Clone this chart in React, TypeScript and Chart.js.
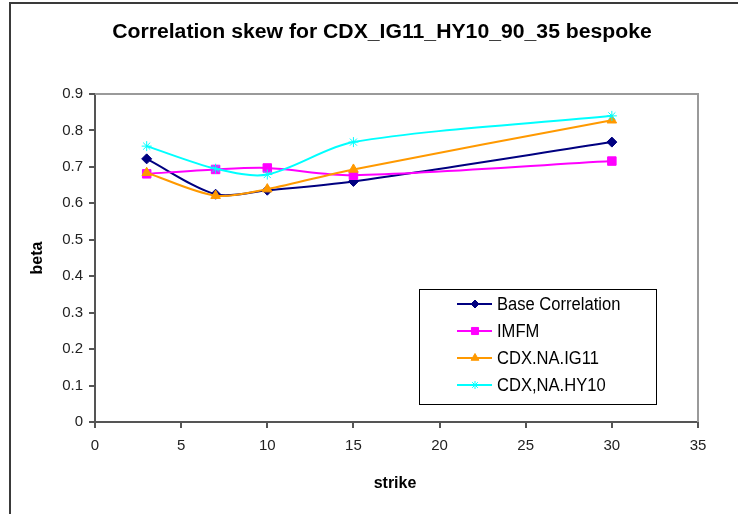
import React, { useEffect, useRef } from 'react';
import { Chart, registerables } from 'chart.js';
import { drawPoint } from 'chart.js/helpers';

Chart.register(...registerables);

const strikes = [3, 7, 10, 15, 30];
const baseCorrelation = [0.722, 0.625, 0.636, 0.66, 0.768];
const imfm = [0.681, 0.693, 0.697, 0.677, 0.716];
const cdxIG11 = [0.684, 0.621, 0.639, 0.693, 0.828];
const cdxHY10 = [0.757, 0.695, 0.679, 0.768, 0.84];

const seriesNames = ['Base Correlation', 'IMFM', 'CDX.NA.IG11', 'CDX,NA.HY10'];
const seriesValues = [baseCorrelation, imfm, cdxIG11, cdxHY10];
const seriesColors = ['#000080', '#FF00FF', '#FF9900', '#00FFFF'];
const seriesMarkers = ['rectRot', 'rect', 'triangle', 'star'];
const seriesRadius = [5, 6, 5.5, 5];

const titleText = 'Correlation skew for CDX_IG11_HY10_90_35 bespoke';
const xTitle = 'strike';
const yTitle = 'beta';

const FONT = "'Liberation Sans', Arial, sans-serif";

const chrome = {
  id: 'chrome',
  beforeDraw(chart: any) {
    const ctx = chart.ctx;
    ctx.save();
    ctx.fillStyle = '#ffffff';
    ctx.fillRect(0, 0, chart.width, chart.height);
    ctx.restore();
  },
  beforeDatasetsDraw(chart: any) {
    const { ctx, chartArea: a } = chart;
    ctx.save();
    ctx.strokeStyle = '#9a9a9a';
    ctx.lineWidth = 2;
    ctx.beginPath();
    ctx.moveTo(a.left, a.top);
    ctx.lineTo(a.right, a.top);
    ctx.lineTo(a.right, a.bottom);
    ctx.stroke();
    ctx.restore();
  },
  afterDraw(chart: any) {
    const { ctx, chartArea: a } = chart;
    ctx.save();
    // outer border
    ctx.strokeStyle = '#3a3a3a';
    ctx.lineWidth = 2;
    ctx.strokeRect(10, 3, chart.width + 10, chart.height + 10);

    // title
    ctx.fillStyle = '#000';
    ctx.font = `bold 20px ${FONT}`;
    ctx.textAlign = 'center';
    ctx.textBaseline = 'middle';
    ctx.save();
    ctx.translate(382, 32);
    ctx.scale(1.06, 1);
    ctx.fillText(titleText, 0, 0);
    ctx.restore();

    // axis titles
    ctx.font = `bold 16px ${FONT}`;
    ctx.fillText(xTitle, 395, 484);
    ctx.save();
    ctx.translate(38, 258);
    ctx.rotate(-Math.PI / 2);
    ctx.fillText(yTitle, 0, 0);
    ctx.restore();

    // legend
    const bx = 419, by = 289, bw = 237, bh = 115;
    ctx.fillStyle = '#fff';
    ctx.fillRect(bx, by, bw, bh);
    ctx.strokeStyle = '#000';
    ctx.lineWidth = 1;
    ctx.strokeRect(bx + 0.5, by + 0.5, bw, bh);
    ctx.font = `18px ${FONT}`;
    ctx.textAlign = 'left';
    ctx.textBaseline = 'middle';
    seriesNames.forEach((name, i) => {
      const y = 304 + i * 27;
      ctx.strokeStyle = seriesColors[i];
      ctx.lineWidth = 2;
      ctx.beginPath();
      ctx.moveTo(457, y);
      ctx.lineTo(492, y);
      ctx.stroke();
      ctx.fillStyle = seriesColors[i];
      ctx.lineWidth = 1;
      drawPoint(ctx, { pointStyle: seriesMarkers[i], radius: seriesRadius[i] - 1, rotation: 0, borderWidth: 1 } as any, 475, y);
      ctx.fillStyle = '#000';
      ctx.save();
      ctx.translate(497, y + 1);
      ctx.scale(0.92, 1);
      ctx.fillText(name, 0, 0);
      ctx.restore();
    });
    ctx.restore();
  },
};

export default function App() {
  const ref = useRef<HTMLCanvasElement>(null);
  useEffect(() => {
    document.body.style.margin = '0';
    Chart.defaults.font.family = FONT;
    const datasets = seriesNames.map((name, i) => ({
      label: name,
      data: strikes.map((x, j) => ({ x, y: seriesValues[i][j] })),
      borderColor: seriesColors[i],
      backgroundColor: seriesColors[i],
      pointBackgroundColor: seriesColors[i],
      pointBorderColor: seriesColors[i],
      pointStyle: seriesMarkers[i],
      pointRadius: seriesRadius[i],
      pointBorderWidth: 1,
      borderWidth: 2,
      showLine: true,
      tension: 0.3,
      order: seriesNames.length - i,
    }));
    const chart = new Chart(ref.current!, {
      type: 'scatter',
      data: { datasets },
      options: {
        animation: false,
        responsive: false,
        maintainAspectRatio: false,
        layout: { padding: { left: 35, right: 40, top: 94, bottom: 12 } },
        plugins: { legend: { display: false }, title: { display: false }, tooltip: { enabled: false } },
        scales: {
          x: {
            type: 'linear',
            min: 0,
            max: 35,
            afterFit: (s: any) => { s.height = 80; },
            ticks: { stepSize: 5, color: '#222', font: { size: 15, family: FONT }, padding: 9, maxRotation: 0 },
            grid: { drawOnChartArea: false, drawTicks: true, tickLength: 6, color: '#555', lineWidth: 2 },
            border: { color: '#555', width: 2 },
          },
          y: {
            type: 'linear',
            min: 0,
            max: 0.9,
            afterFit: (s: any) => { s.width = 60; },
            ticks: {
              stepSize: 0.1,
              color: '#222',
              font: { size: 15, family: FONT },
              padding: 6,
              callback: (v: any) => String(Math.round(Number(v) * 10) / 10),
            },
            grid: { drawOnChartArea: false, drawTicks: true, tickLength: 6, color: '#555', lineWidth: 2 },
            border: { color: '#555', width: 2 },
          },
        },
      },
      plugins: [chrome],
    });
    return () => chart.destroy();
  }, []);
  return (
    <div style={{ position: 'absolute', left: 0, top: 0 }}>
      <canvas ref={ref} width={738} height={514} style={{ width: 738, height: 514, display: 'block' }} />
    </div>
  );
}
